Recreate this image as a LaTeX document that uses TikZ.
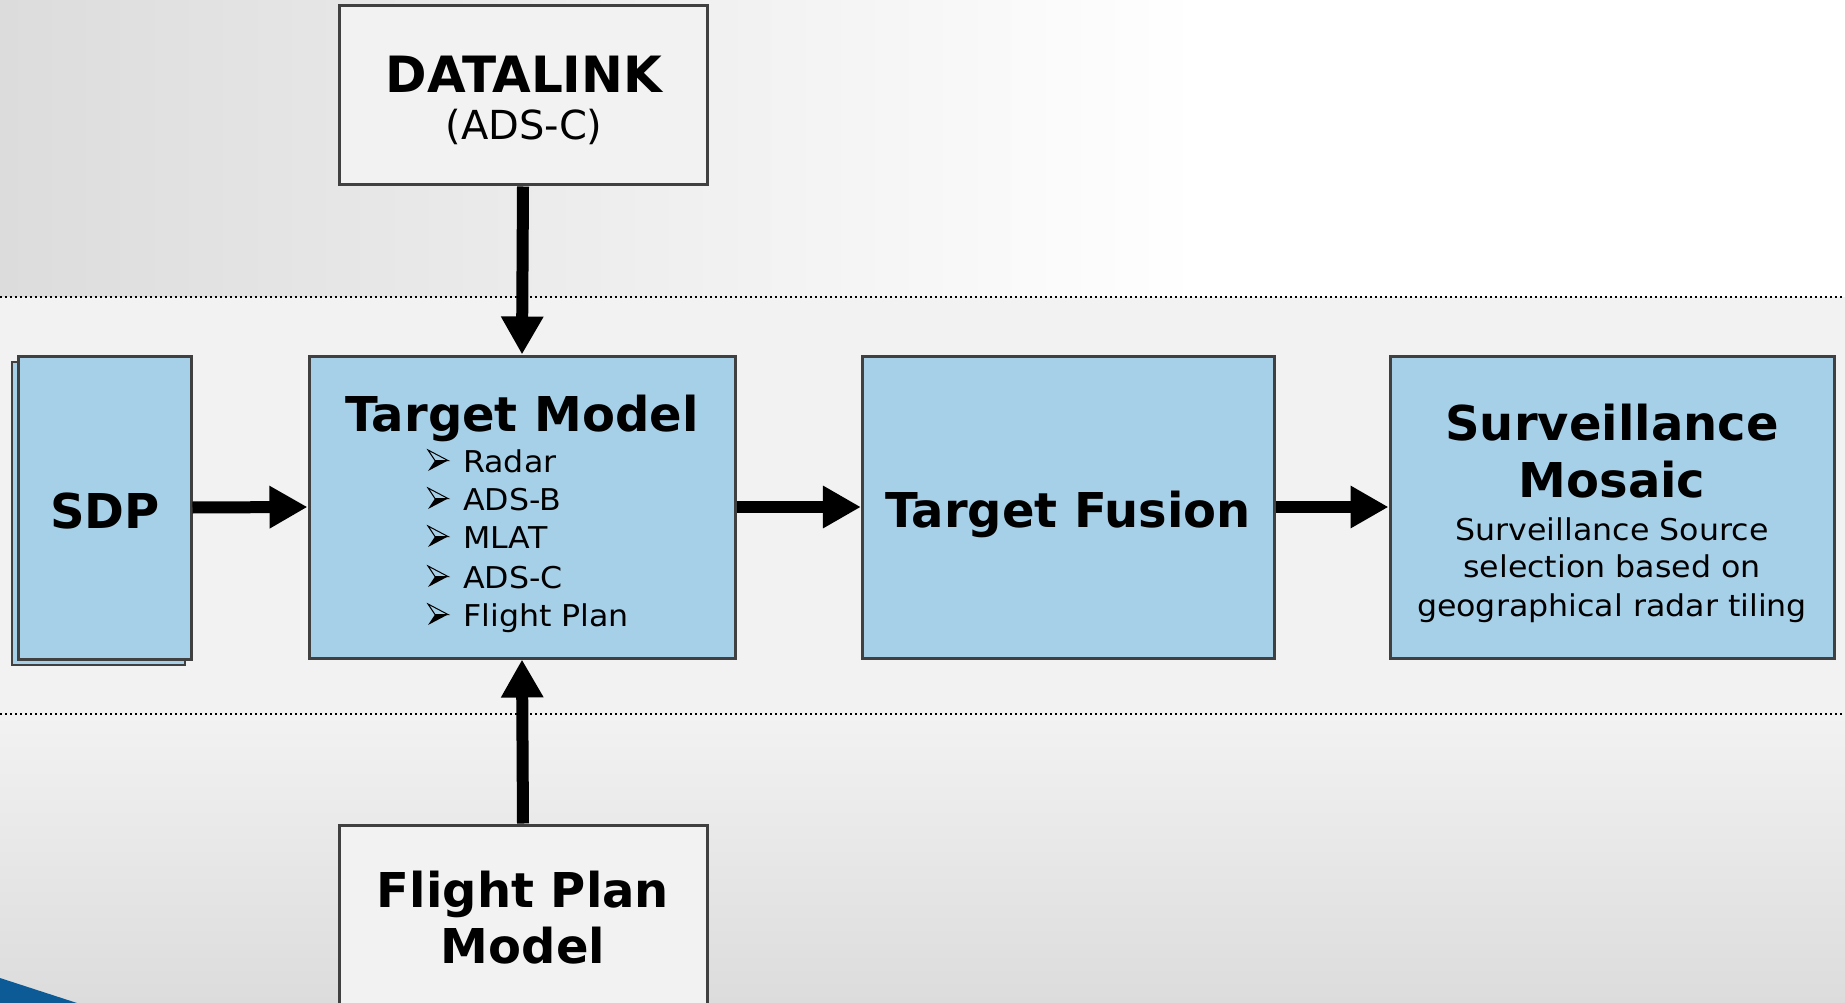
\documentclass[tikz,border=0pt]{standalone}
\usepackage{fontspec}
\setmainfont{DejaVu Sans}
\newfontfamily\widefont[FakeStretch=1.055]{DejaVu Sans}
\usetikzlibrary{arrows.meta}
\definecolor{boxblue}{HTML}{A6D0E8}
\definecolor{boxgray}{HTML}{F2F2F2}
\definecolor{edgecol}{HTML}{404040}
\definecolor{wedgecol}{HTML}{0D5B96}
\definecolor{bgdark}{HTML}{DCDCDC}
\begin{document}
\begin{tikzpicture}[x=1pt,y=-1pt,
 box/.style={draw=edgecol, line width=3pt, rectangle, inner sep=0pt},
 bluebox/.style={box, fill=boxblue},
 graybox/.style={box, fill=boxgray},
 big/.style={font=\fontsize{48}{56}\selectfont\bfseries, inner sep=0pt, anchor=base},
 small/.style={font=\widefont\fontsize{30}{36}\selectfont, inner sep=0pt, anchor=base},
 item/.style={font=\widefont\fontsize{30}{36}\selectfont, inner sep=0pt, anchor=base west},
 flow/.style={line width=12pt, -{Triangle[length=38pt,width=40pt]}},
 sepline/.style={line width=2pt, dash pattern=on 2pt off 3pt},
]
\useasboundingbox (0,0) rectangle (1845,1003);
\clip (0,0) rectangle (1845,1003);
% background
\shade[left color=bgdark, right color=white] (0,0) rectangle (1200,297);
\fill[white] (1200,0) rectangle (1845,297);
\fill[boxgray] (0,297) rectangle (1845,714);
\shade[top color=boxgray, bottom color=bgdark] (0,714) rectangle (1845,1003);
\fill[wedgecol] (0,978) -- (77,1003) -- (0,1003) -- cycle;
\draw[sepline] (0,297) -- (1845,297);
\draw[sepline] (0,714) -- (1845,714);

% boxes
\node[bluebox, line width=2.5pt, minimum width=173pt, minimum height=303pt] (sdpback) at (98.5,513.5) {};
\node[bluebox, minimum width=173pt, minimum height=303pt] (sdp) at (104.5,507.5) {};
\node[bluebox, minimum width=426pt, minimum height=302pt] (tm) at (522,507) {};
\node[bluebox, minimum width=412pt, minimum height=302pt] (tf) at (1068.4,507) {};
\node[bluebox, minimum width=444pt, minimum height=302pt] (sm) at (1612,507) {};
\node[graybox, minimum width=368pt, minimum height=179pt] (dl) at (523,95.5) {};
\node[graybox, minimum width=368pt, minimum height=200pt] (fp) at (523,925) {};

% texts
\node[big] (sdptext) at (105,528) {SDP};
\node[big] (tmtitle) at (522,431) {Target Model};
\foreach \t/\y [count=\i] in {Radar/472, ADS-B/510, MLAT/548, ADS-C/588, Flight Plan/626} {
  \begin{scope}[shift={(428,\y-1)}]
    \draw[line width=1pt, fill=boxblue, line join=miter] (0,-21) -- (20,-10.5) -- (7,-10.5) -- cycle;
    \fill[black] (7,-10.5) -- (20,-10.5) -- (0,0) -- cycle;
  \end{scope}
  \node[item] (itm\i) at (463,\y) {\t};
}
\node[big] (tftext) at (1068,527) {Target Fusion};
\node[big] (smt1) at (1612,440) {Surveillance};
\node[big] (smt2) at (1612,497) {Mosaic};
\node[small] (sms1) at (1612,540) {Surveillance Source};
\node[small] (sms2) at (1612,577) {selection based on};
\node[small] (sms3) at (1612,616) {geographical radar tiling};
\node[big, font=\fontsize{50}{56}\selectfont\bfseries] (dlt1) at (524,93) {DATALINK};
\node[small, font=\fontsize{40}{48}\selectfont] (dlt2) at (524,140) {(ADS-C)};
\node[big] (fpt1) at (523,907) {Flight Plan};
\node[big] (fpt2) at (523,963) {Model};

% connectors
\draw[flow] (sdp.east) -- (tm.west);
\draw[flow] (tm.east) -- (tf.west);
\draw[flow] (tf.east) -- (sm.west);
\draw[flow] (dl.south) -- (tm.north);
\draw[flow] (fp.north) -- (tm.south);
\end{tikzpicture}
\end{document}
